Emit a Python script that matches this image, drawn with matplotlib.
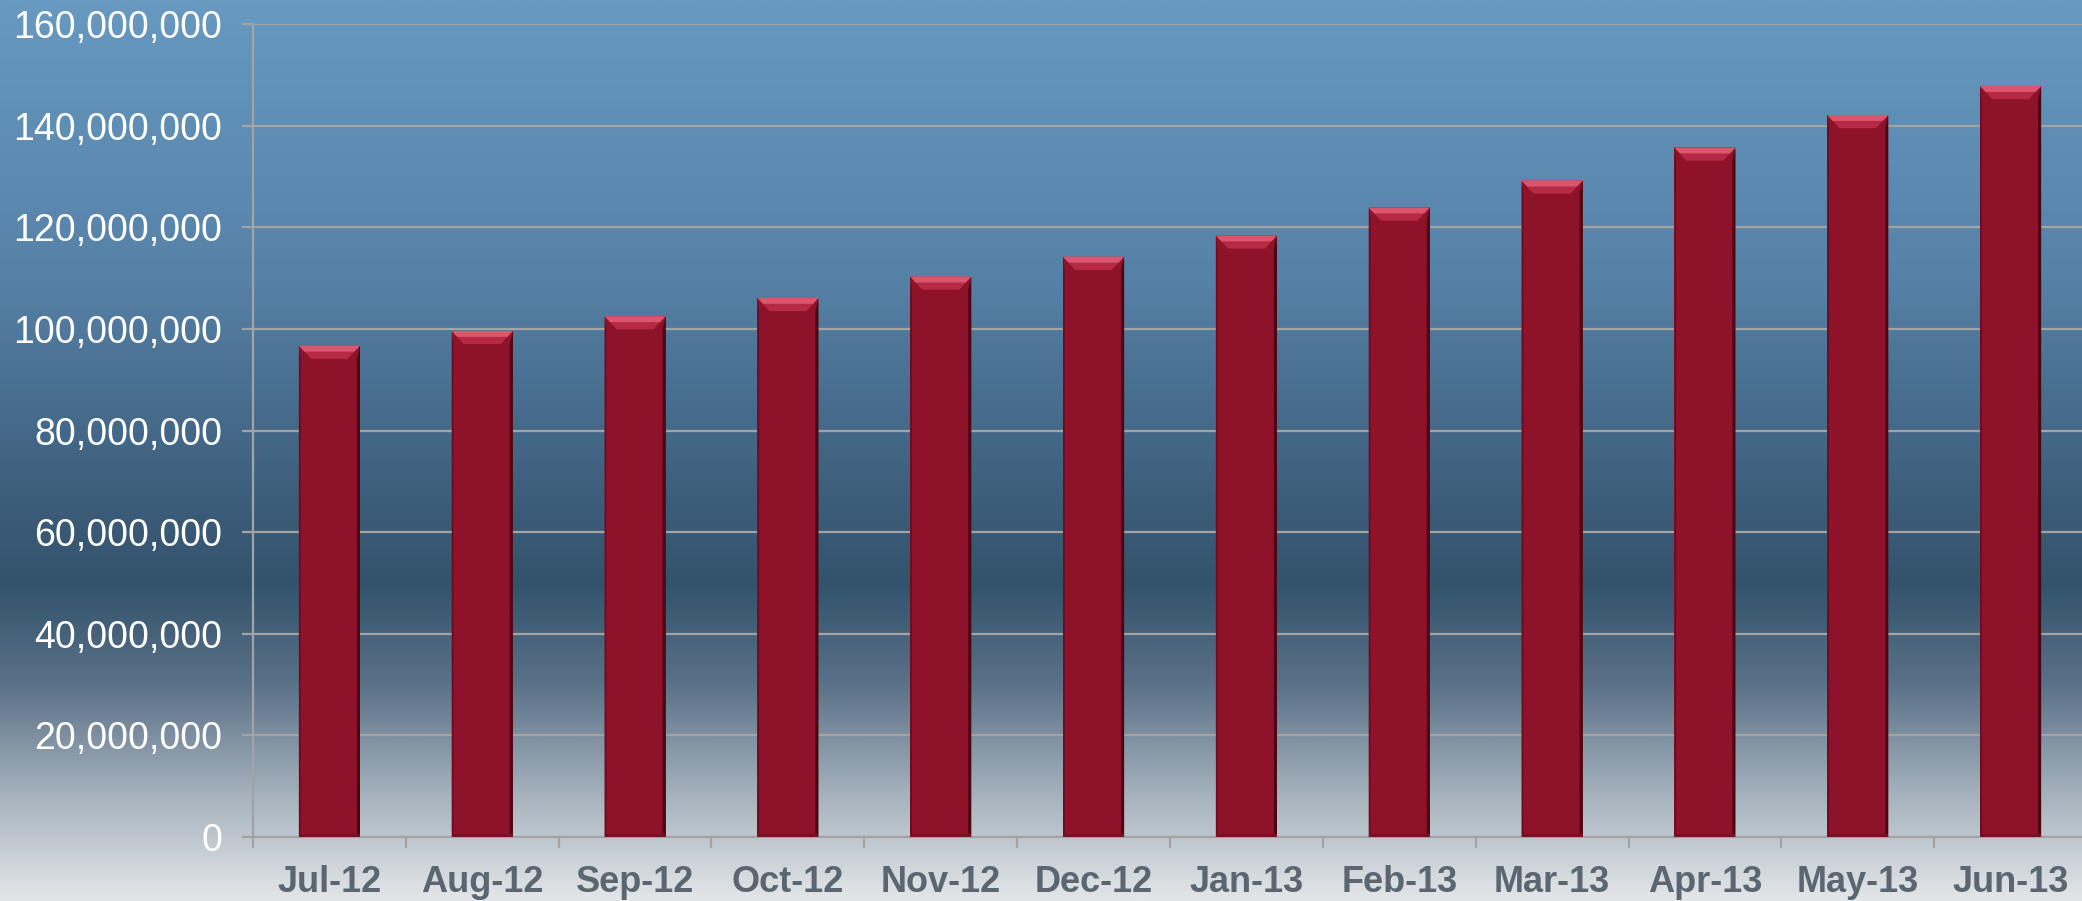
import numpy as np
import matplotlib.pyplot as plt
from matplotlib.patches import Polygon, Rectangle
from matplotlib.colors import LinearSegmentedColormap
from matplotlib.ticker import FuncFormatter

plt.rcParams['font.family'] = ['Liberation Sans', 'DejaVu Sans']

# monthly values
months = ['Jul-12', 'Aug-12', 'Sep-12', 'Oct-12', 'Nov-12', 'Dec-12',
          'Jan-13', 'Feb-13', 'Mar-13', 'Apr-13', 'May-13', 'Jun-13']
values = [96.7e6, 99.6e6, 102.5e6, 106.1e6, 110.3e6, 114.2e6,
          118.4e6, 123.9e6, 129.2e6, 135.7e6, 142.1e6, 147.8e6]
y_ticks = [0, 20e6, 40e6, 60e6, 80e6, 100e6, 120e6, 140e6, 160e6]

fig = plt.figure(figsize=(20.82, 9.01), dpi=100)

# background gradient (top to bottom)
bg = fig.add_axes([0, 0, 1, 1], zorder=-10)
stops = [(0.0, '#6799c1'), (0.30, '#5782a8'), (0.58, '#3a5a76'),
         (0.65, '#33536d'), (0.76, '#5a7188'), (0.88, '#a3b0bb'),
         (1.0, '#e3e6e9')]
cmap = LinearSegmentedColormap.from_list('bg', stops)
grad = np.linspace(0, 1, 512).reshape(-1, 1)
bg.imshow(grad, aspect='auto', cmap=cmap, extent=[0, 1, 0, 1], origin='upper')
bg.axis('off')

ax = fig.add_axes([253 / 2082, 64 / 901, 1834 / 2082, 813 / 901])
ax.patch.set_alpha(0)

x = np.arange(len(months))
bars = ax.bar(x, values, width=0.4, color='#8e1229', zorder=3)

# bevel look on each bar
by = 2.6e6
bx = 0.08
for b in bars:
    x0, w, h = b.get_x(), b.get_width(), b.get_height()
    x1 = x0 + w
    ax.add_patch(Polygon([(x0, h), (x1, h), (x1 - bx, h - by), (x0 + bx, h - by)],
                         closed=True, facecolor='#b72a45', edgecolor='none', zorder=4))
    ax.add_patch(Polygon([(x0, h), (x1, h), (x1 - bx * 0.45, h - by * 0.45), (x0 + bx * 0.45, h - by * 0.45)],
                         closed=True, facecolor='#d9566c', edgecolor='none', zorder=4))
    ax.add_patch(Polygon([(x1, h), (x1, 0), (x1 - 0.02, 0.4e6), (x1 - 0.02, h - by)],
                         closed=True, facecolor='#4a0612', edgecolor='none', zorder=4))
    ax.add_patch(Polygon([(x0, h), (x0, 0), (x0 + 0.012, 0.4e6), (x0 + 0.012, h - by)],
                         closed=True, facecolor='#6e0c1f', edgecolor='none', zorder=4))
    ax.add_patch(Rectangle((x0, 0), w, 0.5e6, facecolor='#7a0e22', edgecolor='none', zorder=4))

ax.set_xlim(-0.5, len(months) - 0.5)
ax.set_ylim(0, 160e6)
ax.set_yticks(y_ticks)
ax.yaxis.set_major_formatter(FuncFormatter(lambda v, p: f'{int(v):,}'))
ax.grid(axis='y', color='#a3a3a3', linewidth=1.6, zorder=0)
ax.set_axisbelow(True)

ax.set_xticks(x)
ax.set_xticklabels(months)
ax.set_xticks(np.arange(-0.5, len(months)), minor=True)
ax.tick_params(axis='x', which='major', length=0, pad=20, labelsize=26,
               labelcolor='#5b6670')
ax.tick_params(axis='x', which='minor', length=8, width=1.6, color='#a3a3a3',
               direction='out')
for lab in ax.get_xticklabels():
    lab.set_fontweight('bold')
ax.tick_params(axis='y', length=8, width=1.6, color='#a3a3a3', pad=14,
               labelsize=27, labelcolor='white')

for s in ['top', 'right']:
    ax.spines[s].set_visible(False)
for s in ['left', 'bottom']:
    ax.spines[s].set_color('#a3a3a3')
    ax.spines[s].set_linewidth(1.6)

plt.savefig('out.png', dpi=100)
